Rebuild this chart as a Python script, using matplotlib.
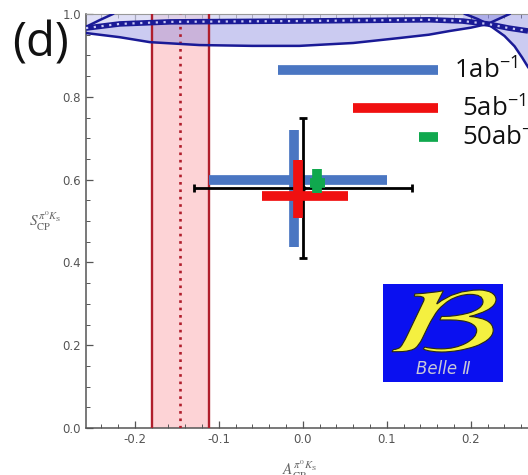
import matplotlib
matplotlib.use("Agg")
import matplotlib.pyplot as plt
from matplotlib.ticker import MultipleLocator, FormatStrFormatter
from matplotlib.patches import Rectangle, PathPatch
from matplotlib.textpath import TextPath
from matplotlib.font_manager import FontProperties
from matplotlib.transforms import Affine2D

plt.rcParams['axes.unicode_minus'] = False
plt.rcParams['mathtext.fontset'] = 'stix'

# ---------------- data ----------------
run_labels = ['1ab', '5ab', '50ab']
run_colors = ['#4a76c2', '#f01010', '#10a84e']
h_S = [0.600, 0.560, 0.592]          # horizontal bar S value
h_A_lo = [-0.112, -0.048, 0.008]
h_A_hi = [0.100, 0.054, 0.026]
v_A = [-0.011, -0.006, 0.017]        # vertical bar A value
v_S_lo = [0.437, 0.507, 0.568]
v_S_hi = [0.720, 0.647, 0.626]

# current world average
wa_A, wa_A_err = 0.00, 0.13
wa_S, wa_S_err = 0.58, 0.17

# red band (A_CP constraint)
band_A_lo, band_A_c, band_A_hi = -0.179, -0.146, -0.112

# blue contour band curves (A, S)
lower_A = [-0.258, -0.218, -0.182, -0.123, -0.060, -0.004, 0.060, 0.115, 0.150, 0.175, 0.200, 0.220, 0.246]
lower_S = [0.954, 0.944, 0.932, 0.925, 0.923, 0.923, 0.930, 0.942, 0.950, 0.959, 0.967, 0.976, 1.000]
upper_A = [-0.258, -0.218, -0.158, -0.004, 0.100, 0.151, 0.190, 0.220, 0.245, 0.268]
upper_S = [0.966, 0.976, 0.981, 0.983, 0.985, 0.986, 0.983, 0.976, 0.966, 0.959]
desc_A = [0.193, 0.208, 0.220, 0.240, 0.252, 0.261, 0.268]
desc_S = [1.000, 0.988, 0.976, 0.947, 0.922, 0.895, 0.872]
left_A = [-0.258, -0.242, -0.226]
left_S = [0.969, 0.985, 1.000]

xticks = [-0.2, -0.1, 0.0, 0.1, 0.2]
yticks = [0.0, 0.2, 0.4, 0.6, 0.8, 1.0]

# ---------------- figure ----------------
fig = plt.figure(figsize=(5.28, 4.75), dpi=100)
ax = fig.add_axes([86/528, 47/475, 442/528, 414/475])
ax.set_xlim(-0.258, 0.268)
ax.set_ylim(0.0, 1.0)

# red band
ax.axvspan(band_A_lo, band_A_hi, color='#fdd3d6', zorder=1, lw=0)
for a in (band_A_lo, band_A_hi):
    ax.axvline(a, color='#b01e2c', lw=1.7, zorder=4)
ax.axvline(band_A_c, color='#b01e2c', lw=1.9, ls=(0, (1, 1.8)), zorder=4)

# blue contour
ax.fill_between(lower_A, lower_S, 1.0, color='#8c8ce0', alpha=0.45, lw=0, zorder=2)
ax.fill_between(upper_A[:-3], upper_S[:-3], 1.0, color='white', alpha=0.4, lw=0, zorder=2.5)
ax.fill_between(desc_A, desc_S, 1.0, color='#8c8ce0', alpha=0.45, lw=0, zorder=2)
ax.plot(lower_A, lower_S, color='#1a1a96', lw=1.8, zorder=5)
ax.plot(upper_A, upper_S, color='#1a1a96', lw=4.0, zorder=5, solid_capstyle='butt')
ax.plot(upper_A, upper_S, color='#c8c8f4', lw=1.6, ls=(0, (1, 2.5)), zorder=5.5)
ax.plot(desc_A, desc_S, color='#1a1a96', lw=1.8, zorder=5)
ax.plot(left_A, left_S, color='#1a1a96', lw=1.8, zorder=5)

# projection bars
zs = [6, 8, 9]
for i in range(len(run_labels)):
    ax.plot([h_A_lo[i], h_A_hi[i]], [h_S[i], h_S[i]], color=run_colors[i], lw=7,
            solid_capstyle='butt', zorder=zs[i])
    ax.plot([v_A[i], v_A[i]], [v_S_lo[i], v_S_hi[i]], color=run_colors[i], lw=7,
            solid_capstyle='butt', zorder=zs[i])

# world average
ax.errorbar([wa_A], [wa_S], xerr=[wa_A_err], yerr=[wa_S_err], fmt='D', ms=3,
            color='black', ecolor='black', elinewidth=2, capsize=3, capthick=2, zorder=7)

# legend (manual)
leg_y = [0.865, 0.773, 0.703]
leg_x0 = [-0.030, 0.060, 0.138]
leg_x1 = 0.161
leg_tx = [0.180, 0.189, 0.189]
for i in range(len(run_labels)):
    ax.plot([leg_x0[i], leg_x1], [leg_y[i], leg_y[i]], color=run_colors[i], lw=7,
            solid_capstyle='butt', zorder=6)
    ax.text(leg_tx[i], leg_y[i], run_labels[i] + r'$^{\mathregular{-1}}$', fontsize=18.5,
            family='Open Sans', va='center', ha='left', color='#111111', zorder=10,
            clip_on=False)

# logo
ax.add_patch(Rectangle((0.672, 0.111), 0.271, 0.237, transform=ax.transAxes,
                       facecolor='#0a10f0', edgecolor='none', zorder=9))
tp = TextPath((0, 0), r'$\mathcal{B}$', size=1, prop=FontProperties(family='STIXGeneral'))
bb = tp.get_extents()
# fit the glyph into a target box in pixels (from top-left)
W, H = 528, 475
x0p, x1p, y0p, y1p = 392, 496, 290, 352
sx = (x1p - x0p) / bb.width
sy = (y1p - y0p) / bb.height
tr = Affine2D().translate(-bb.x0, -bb.y0).scale(sx, sy).translate(x0p, H - y1p)
bpath = tr.transform_path(tp)
ax.add_patch(PathPatch(bpath, transform=None, facecolor='#f4f040', edgecolor='#2a2a10',
                       lw=0.8, zorder=10))
ax.text(0.808, 0.143, 'Belle Ⅱ', transform=ax.transAxes, fontsize=12, style='italic',
        family='DejaVu Sans', color='#c8c8d8', ha='center', va='center', zorder=10)

# axes styling
ax.set_xticks(xticks)
ax.set_yticks(yticks)
ax.xaxis.set_major_formatter(FormatStrFormatter('%.1f'))
ax.yaxis.set_major_formatter(FormatStrFormatter('%.1f'))
ax.xaxis.set_minor_locator(MultipleLocator(0.02))
ax.yaxis.set_minor_locator(MultipleLocator(0.05))
ax.tick_params(which='both', direction='in', top=True, right=False, colors='#555555',
               labelsize=8.5, labelcolor='#555555')
ax.tick_params(which='major', length=5, width=0.9)
ax.tick_params(which='minor', length=3, width=0.7)
for s in ('left', 'bottom'):
    ax.spines[s].set_color('#555555')
    ax.spines[s].set_linewidth(1.1)
ax.spines['top'].set_color('#999999')
ax.spines['right'].set_visible(False)

ax.text(-0.093, 0.50, r'$S_{\rm CP}^{\pi^0 K_{\rm S}}$', transform=ax.transAxes,
        fontsize=11, color='#666666', ha='center', va='center')
ax.text(0.484, -0.102, r'$A_{\rm CP}^{\pi^0 K_{\rm S}}$', transform=ax.transAxes,
        fontsize=11, color='#666666', ha='center', va='center')

fig.text(12/528, 1 - 44/475, '(d)', fontsize=34, family='Open Sans', ha='left', va='center',
         color='#111111')

fig.savefig('out.png', dpi=100)
